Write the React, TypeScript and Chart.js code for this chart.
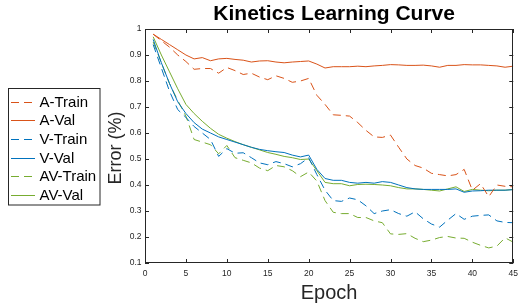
import React, { useEffect, useRef } from 'react';
import { Chart, registerables } from 'chart.js';

Chart.register(...registerables);

const epochs = [1, 2, 3, 4, 5, 6, 7, 8, 9, 10, 11, 12, 13, 14, 15, 16, 17, 18, 19, 20, 21, 22, 23, 24, 25, 26, 27, 28, 29, 30, 31, 32, 33, 34, 35, 36, 37, 38, 39, 40, 41, 42, 43, 44, 45];

const aTrain = [0.98, 0.955, 0.93, 0.90, 0.875, 0.845, 0.848, 0.848, 0.83, 0.852, 0.84, 0.825, 0.83, 0.815, 0.805, 0.82, 0.81, 0.795, 0.80, 0.81, 0.745, 0.71, 0.67, 0.668, 0.665, 0.64, 0.61, 0.585, 0.583, 0.592, 0.545, 0.50, 0.475, 0.465, 0.445, 0.44, 0.435, 0.44, 0.46, 0.38, 0.405, 0.355, 0.40, 0.395, 0.393];
const aVal = [0.98, 0.96, 0.94, 0.92, 0.90, 0.885, 0.89, 0.878, 0.885, 0.887, 0.883, 0.88, 0.873, 0.877, 0.878, 0.873, 0.87, 0.873, 0.875, 0.877, 0.865, 0.85, 0.855, 0.855, 0.855, 0.857, 0.855, 0.858, 0.86, 0.863, 0.862, 0.86, 0.86, 0.861, 0.858, 0.853, 0.86, 0.86, 0.863, 0.862, 0.862, 0.86, 0.858, 0.853, 0.857];
const vTrain = [0.94, 0.85, 0.76, 0.69, 0.66, 0.625, 0.60, 0.575, 0.51, 0.54, 0.522, 0.524, 0.505, 0.485, 0.478, 0.49, 0.482, 0.47, 0.482, 0.505, 0.44, 0.38, 0.34, 0.337, 0.35, 0.343, 0.32, 0.29, 0.30, 0.305, 0.29, 0.28, 0.297, 0.27, 0.25, 0.238, 0.265, 0.29, 0.268, 0.28, 0.283, 0.285, 0.262, 0.256, 0.255];
const vVal = [0.96, 0.87, 0.79, 0.72, 0.675, 0.64, 0.615, 0.60, 0.585, 0.575, 0.565, 0.555, 0.545, 0.537, 0.532, 0.528, 0.525, 0.515, 0.508, 0.515, 0.46, 0.425, 0.418, 0.418, 0.41, 0.407, 0.41, 0.407, 0.413, 0.41, 0.40, 0.39, 0.385, 0.383, 0.383, 0.383, 0.383, 0.385, 0.372, 0.377, 0.378, 0.38, 0.38, 0.38, 0.382];
const avTrain = [0.95, 0.87, 0.79, 0.725, 0.665, 0.575, 0.565, 0.555, 0.52, 0.552, 0.505, 0.495, 0.485, 0.465, 0.455, 0.475, 0.47, 0.455, 0.432, 0.45, 0.415, 0.34, 0.295, 0.29, 0.29, 0.275, 0.275, 0.262, 0.255, 0.212, 0.21, 0.213, 0.195, 0.182, 0.188, 0.198, 0.202, 0.196, 0.195, 0.18, 0.168, 0.158, 0.165, 0.197, 0.18];
const avVal = [0.97, 0.90, 0.835, 0.77, 0.71, 0.675, 0.645, 0.618, 0.595, 0.58, 0.567, 0.555, 0.545, 0.535, 0.525, 0.518, 0.51, 0.505, 0.498, 0.50, 0.455, 0.41, 0.405, 0.405, 0.397, 0.402, 0.403, 0.402, 0.40, 0.397, 0.39, 0.385, 0.385, 0.383, 0.38, 0.377, 0.385, 0.393, 0.375, 0.383, 0.38, 0.378, 0.38, 0.38, 0.383];

const seriesNames = ['A-Train', 'A-Val', 'V-Train', 'V-Val', 'AV-Train', 'AV-Val'];
const xTickValues = [0, 5, 10, 15, 20, 25, 30, 35, 40, 45];
const xTickLabels = ['0', '5', '10', '15', '20', '25', '30', '35', '40', '45'];
const yTickValues = [0.1, 0.2, 0.3, 0.4, 0.5, 0.6, 0.7, 0.8, 0.9, 1];
const yTickLabels = ['0.1', '0.2', '0.3', '0.4', '0.5', '0.6', '0.7', '0.8', '0.9', '1'];
const titleText = 'Kinetics Learning Curve';
const xTitle = 'Epoch';
const yTitle = 'Error (%)';

const ORANGE = '#D95319';
const BLUE = '#0072BD';
const GREEN = '#77AC30';
const AXIS = '#262626';
const FONT = '"Liberation Sans", Arial, Helvetica, sans-serif';
const DASH = [8, 5];

const decor = {
  id: 'decor',
  afterDraw(chart: any) {
    const { ctx, chartArea } = chart;
    const { left, right, top, bottom } = chartArea;
    const xs = chart.scales.x;
    const ys = chart.scales.y;
    ctx.save();
    ctx.strokeStyle = AXIS;
    ctx.lineWidth = 1;
    ctx.setLineDash([]);
    ctx.strokeRect(Math.round(left) + 0.5, Math.round(top) + 0.5, Math.round(right - left) - 1, Math.round(bottom - top) - 1);
    ctx.beginPath();
    xTickValues.forEach((v) => {
      const px = Math.round(xs.getPixelForValue(v)) + 0.5;
      ctx.moveTo(px, bottom);
      ctx.lineTo(px, bottom - 4);
      ctx.moveTo(px, top);
      ctx.lineTo(px, top + 4);
    });
    yTickValues.forEach((v) => {
      const py = Math.round(ys.getPixelForValue(v)) + 0.5;
      ctx.moveTo(left, py);
      ctx.lineTo(left + 4, py);
      ctx.moveTo(right, py);
      ctx.lineTo(right - 4, py);
    });
    ctx.stroke();

    ctx.fillStyle = '#000';
    ctx.font = `bold 21px ${FONT}`;
    ctx.textAlign = 'center';
    ctx.textBaseline = 'alphabetic';
    ctx.fillText(titleText, (left + right) / 2 + 5, 20);

    ctx.fillStyle = AXIS;
    ctx.font = `20px ${FONT}`;
    ctx.fillText(xTitle, (left + right) / 2, 299);
    ctx.save();
    ctx.font = `18px ${FONT}`;
    ctx.translate(121, (top + bottom) / 2 + 2);
    ctx.rotate(-Math.PI / 2);
    ctx.fillText(yTitle, 0, 0);
    ctx.restore();

    const lx = 8.5, ly = 88.5, lw = 91.5, lh = 116.5;
    ctx.fillStyle = '#fff';
    ctx.fillRect(lx, ly, lw, lh);
    ctx.strokeStyle = AXIS;
    ctx.lineWidth = 1;
    ctx.strokeRect(lx, ly, lw, lh);
    ctx.font = `15px ${FONT}`;
    ctx.textAlign = 'left';
    ctx.textBaseline = 'middle';
    chart.data.datasets.forEach((ds: any, i: number) => {
      const yy = Math.round(101.5 + i * 18.7) + 0.5;
      ctx.strokeStyle = ds.borderColor;
      ctx.lineWidth = 1;
      ctx.setLineDash(ds.borderDash || []);
      ctx.beginPath();
      ctx.moveTo(11, yy);
      ctx.lineTo(35, yy);
      ctx.stroke();
      ctx.setLineDash([]);
      ctx.fillStyle = '#000';
      ctx.fillText(ds.label, 39.5, yy + 0.5);
    });
    ctx.restore();
  },
};

export default function App() {
  const ref = useRef<HTMLCanvasElement | null>(null);
  useEffect(() => {
    if (!ref.current) return;
    const mk = (label: string, data: number[], color: string, dashed: boolean) => ({
      label,
      data: epochs.map((e, i) => ({ x: e, y: data[i] })),
      borderColor: color,
      backgroundColor: color,
      borderWidth: 1,
      borderDash: dashed ? DASH : [],
      pointRadius: 0,
      tension: 0,
      fill: false,
    });
    const chart = new Chart(ref.current, {
      type: 'line',
      data: {
        datasets: [
          mk(seriesNames[0], aTrain, ORANGE, true),
          mk(seriesNames[1], aVal, ORANGE, false),
          mk(seriesNames[2], vTrain, BLUE, true),
          mk(seriesNames[3], vVal, BLUE, false),
          mk(seriesNames[4], avTrain, GREEN, true),
          mk(seriesNames[5], avVal, GREEN, false),
        ],
      },
      options: {
        animation: false,
        responsive: false,
        devicePixelRatio: 1,
        layout: { padding: { top: 29, right: 2.3, left: 0, bottom: 0 } },
        plugins: { legend: { display: false }, title: { display: false }, tooltip: { enabled: false } },
        scales: {
          x: {
            type: 'linear',
            min: 0,
            max: 45,
            afterBuildTicks: (s: any) => { s.ticks = xTickValues.map((v) => ({ value: v })); },
            afterFit: (s: any) => { s.height = 45; },
            grid: { display: false, drawTicks: false },
            border: { display: false },
            ticks: {
              color: AXIS, font: { family: FONT, size: 8.5 }, padding: 6, maxRotation: 0, autoSkip: false,
              callback: (_v: any, i: number) => xTickLabels[i],
            },
          },
          y: {
            type: 'linear',
            min: 0.1,
            max: 1,
            afterBuildTicks: (s: any) => { s.ticks = yTickValues.map((v) => ({ value: v })); },
            afterFit: (s: any) => { s.width = 145; },
            grid: { display: false, drawTicks: false },
            border: { display: false },
            ticks: {
              color: AXIS, font: { family: FONT, size: 8.5 }, padding: 3.5, autoSkip: false,
              callback: (_v: any, i: number) => yTickLabels[i],
            },
          },
        },
      },
      plugins: [decor],
    } as any);
    return () => chart.destroy();
  }, []);
  return (
    <div style={{ position: 'absolute', left: 0, top: 0, width: 524, height: 308 }}>
      <canvas ref={ref} width={524} height={308} style={{ display: 'block', width: 524, height: 308 }} />
    </div>
  );
}
